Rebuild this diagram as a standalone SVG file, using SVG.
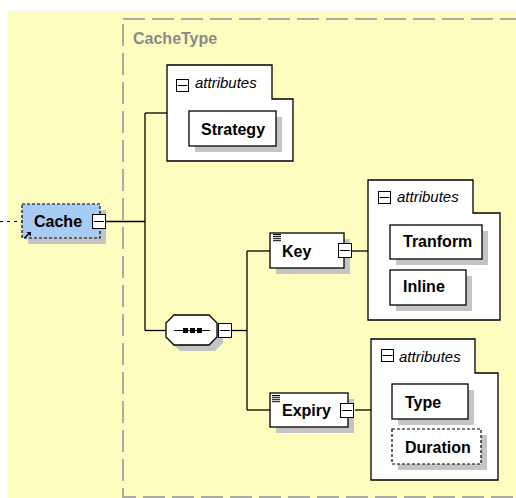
<svg xmlns="http://www.w3.org/2000/svg" width="516" height="498" viewBox="0 0 516 498">
<style>
.lbl{font-family:"Liberation Sans",Arial,sans-serif;font-weight:bold;font-size:16px;fill:#000}
.attr{font-family:"Liberation Sans",Arial,sans-serif;font-style:italic;font-size:15px;fill:#000}
.title{font-family:"Liberation Sans",Arial,sans-serif;font-weight:bold;font-size:16px;fill:#8a8a8a}
.box{fill:#fff;stroke:#000;stroke-width:1.3}
.shd{fill:#c4c4c4}
.conn{stroke:#000;stroke-width:1.3;fill:none}
.mb{fill:#fff;stroke:#000;stroke-width:1}
</style>
<defs>
<g id="minus"><rect class="mb" x="0.5" y="0.5" width="13" height="14"/><line x1="2" y1="7.5" x2="12" y2="7.5" stroke="#000" stroke-width="1"/></g>
<g id="amin"><rect class="mb" x="0.5" y="0.5" width="12" height="12"/><line x1="1.5" y1="6.5" x2="11.5" y2="6.5" stroke="#000" stroke-width="1"/></g>
<g id="lines"><rect x="0" y="0" width="8" height="1.2" fill="#000"/><rect x="0" y="2.2" width="8" height="1" fill="#000"/><rect x="0" y="4.2" width="8" height="1" fill="#000"/><rect x="0" y="6.2" width="8" height="1" fill="#000"/></g>
</defs>
<rect x="8" y="11" width="508" height="487" fill="#FFFCC0"/>
<g id="cachetype">
<rect x="123" y="19" width="420" height="478" fill="none" stroke="#ababa0" stroke-width="2" stroke-dasharray="22 7"/>
<text class="title" x="133" y="44">CacheType</text>
</g>
<g id="connectors">
<line x1="0" y1="221.5" x2="22" y2="221.5" stroke="#000" stroke-width="1" stroke-dasharray="3 4"/>
<line class="conn" x1="106" y1="221.5" x2="145" y2="221.5"/>
<line class="conn" x1="145" y1="113" x2="145" y2="330.5"/>
<line class="conn" x1="145" y1="113" x2="167" y2="113"/>
<line class="conn" x1="145" y1="330.5" x2="166" y2="330.5"/>
<line class="conn" x1="232" y1="330.5" x2="247" y2="330.5"/>
<line class="conn" x1="247" y1="251" x2="247" y2="410"/>
<line class="conn" x1="247" y1="251" x2="270" y2="251"/>
<line class="conn" x1="247" y1="410" x2="270" y2="410"/>
<line class="conn" x1="352" y1="251" x2="368" y2="251"/>
<line class="conn" x1="355" y1="410" x2="371" y2="410"/>
</g>
<g id="cache">
<rect class="shd" x="28" y="210" width="78" height="34"/>
<rect x="22" y="204" width="78" height="34" fill="#A8CBF3" stroke="#000" stroke-width="1.2" stroke-dasharray="3 2"/>
<text class="lbl" x="34" y="227">Cache</text>
<use href="#minus" x="92" y="214"/>
<path d="M24.5,238 L30,232.5" stroke="#000" stroke-width="1.5"/>
<path d="M26.5,232 L31,232 L31,236.5 Z" fill="#000"/>
</g>
<g id="attributes1">
<path class="box" d="M167,65 H272 V99 H293 V161 H167 Z"/>
<use href="#amin" x="176" y="79"/>
<text class="attr" x="195" y="88">attributes</text>
</g>
<g id="strategy">
<rect class="shd" x="195" y="117" width="87" height="35"/>
<rect class="box" x="189" y="111" width="87" height="35"/>
<text class="lbl" x="201" y="135">Strategy</text>
</g>
<g id="sequence">
<path class="shd" d="M180,321 H215 L223,329 V343 L215,351 H180 L172,343 V329 Z"/>
<path class="box" d="M174,315 H209 L217,323 V337 L209,345 H174 L166,337 V323 Z"/>
<line x1="174" y1="330.5" x2="210" y2="330.5" stroke="#000" stroke-width="1.2"/>
<rect x="183" y="328" width="5" height="5" fill="#000"/>
<rect x="190" y="328" width="5" height="5" fill="#000"/>
<rect x="197" y="328" width="5" height="5" fill="#000"/>
<use href="#minus" x="218" y="323"/>
</g>
<g id="key">
<rect class="shd" x="276" y="239" width="74" height="35"/>
<rect class="box" x="270" y="233" width="74" height="35"/>
<use href="#lines" x="273" y="234"/>
<text class="lbl" x="282" y="257">Key</text>
<use href="#minus" x="338" y="243"/>
</g>
<g id="attributes2">
<path class="box" d="M368,180 H473 V213 H500 V320 H368 Z"/>
<use href="#amin" x="378" y="191"/>
<text class="attr" x="397" y="202">attributes</text>
</g>
<g id="tranform">
<rect class="shd" x="396" y="231" width="92" height="34"/>
<rect class="box" x="390" y="225" width="92" height="34"/>
<text class="lbl" x="403" y="247">Tranform</text>
</g>
<g id="inline">
<rect class="shd" x="396" y="276" width="76" height="35"/>
<rect class="box" x="390" y="270" width="76" height="35"/>
<text class="lbl" x="403" y="292">Inline</text>
</g>
<g id="expiry">
<rect class="shd" x="276" y="399" width="78" height="34"/>
<rect class="box" x="270" y="393" width="78" height="34"/>
<use href="#lines" x="272" y="395"/>
<text class="lbl" x="282" y="416">Expiry</text>
<use href="#minus" x="340" y="403"/>
</g>
<g id="attributes3">
<path class="box" d="M371,339 H475 V373 H498 V480 H371 Z"/>
<use href="#amin" x="381" y="349"/>
<text class="attr" x="399" y="362">attributes</text>
</g>
<g id="type">
<rect class="shd" x="398" y="390" width="76" height="35"/>
<rect class="box" x="392" y="384" width="76" height="35"/>
<text class="lbl" x="405" y="408">Type</text>
</g>
<g id="duration">
<rect class="shd" x="398" y="435" width="89" height="35"/>
<rect x="392" y="429" width="89" height="35" fill="#fff" stroke="#000" stroke-width="1.2" stroke-dasharray="3 2"/>
<text class="lbl" x="405" y="453">Duration</text>
</g>
</svg>
